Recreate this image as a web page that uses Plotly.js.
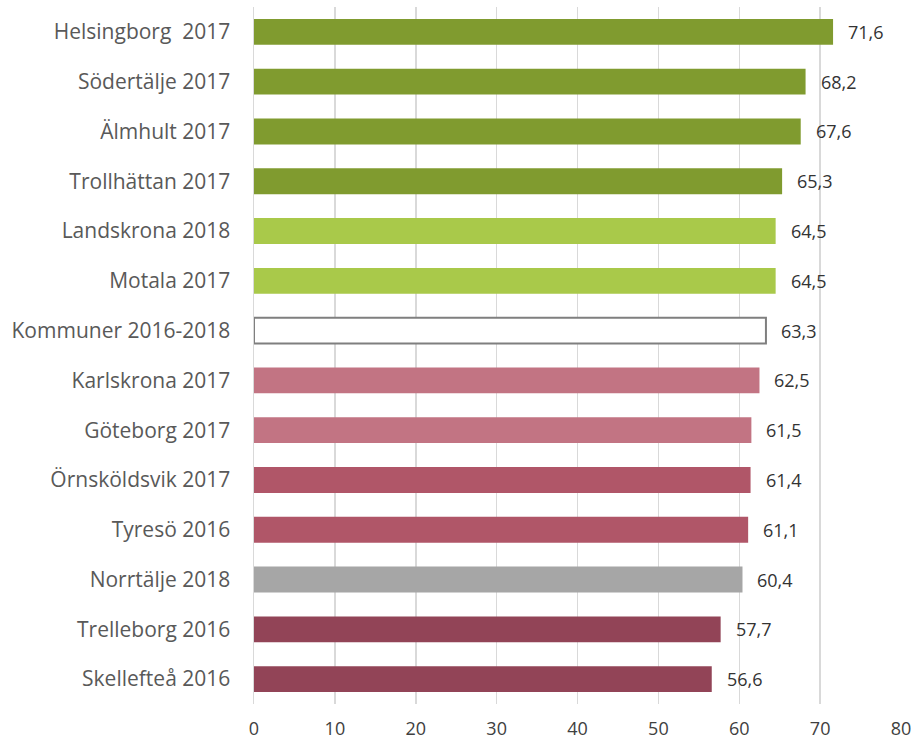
<!DOCTYPE html>
<html>
<head>
<meta charset="utf-8">
<script src="https://cdn.plot.ly/plotly-3.0.1.min.js"></script>
<style>html,body{margin:0;padding:0;background:#fff;}#chart{width:917px;height:741px;}</style>
</head>
<body>
<div id="chart"></div>
<script>
const categories = ["Helsingborg  2017","Södertälje 2017","Älmhult 2017","Trollhättan 2017","Landskrona 2018","Motala 2017","Kommuner 2016-2018","Karlskrona 2017","Göteborg 2017","Örnsköldsvik 2017","Tyresö 2016","Norrtälje 2018","Trelleborg 2016","Skellefteå 2016"];
const values = [71.6,68.2,67.6,65.3,64.5,64.5,63.3,62.5,61.5,61.4,61.1,60.4,57.7,56.6];
const colors = ["#809B2F","#809B2F","#809B2F","#809B2F","#A9C94A","#A9C94A","#FFFFFF","#C27483","#C27483","#B05668","#B05668","#A6A6A6","#924457","#924457"];
const lineColors = colors.map((c,i)=> categories[i]==="Kommuner 2016-2018" ? "#7F7F7F" : c);
const lineWidths = colors.map((c,i)=> categories[i]==="Kommuner 2016-2018" ? 2 : 0);
const tickVals = [0,10,20,30,40,50,60,70,80];

const fmt = v => v.toFixed(1).replace('.', ',');

const trace = {
  type: 'bar',
  orientation: 'h',
  y: categories,
  x: values,
  marker: {color: colors, line: {color: lineColors, width: lineWidths}},
  hoverinfo: 'none'
};

const annotations = values.map((v,i)=>({
  x: v, y: categories[i], xref:'x', yref:'y',
  text: fmt(v), showarrow:false, xanchor:'left', xshift: 13,
  font:{family:'Open Sans, sans-serif', size:18, color:'#333333'}
}));

const layout = {
  width: 917, height: 741,
  margin: {l:254, r:16, t:7, b:37},
  paper_bgcolor:'#fff', plot_bgcolor:'#fff',
  bargap: 0.48,
  showlegend:false,
  xaxis: {
    range:[0,80], tickvals: tickVals, ticktext: tickVals.map(String),
    showgrid:true, gridcolor:'#D9D9D9', gridwidth:1.5,
    zeroline:false, showline:false, ticks:'', ticklabelstandoff: 12,
    tickfont:{family:'Open Sans, sans-serif', size:18, color:'#404040'},
    fixedrange:true
  },
  yaxis: {
    autorange:'reversed', type:'category',
    showgrid:false, zeroline:false, showline:true, linecolor:'#D9D9D9', linewidth:1.5,
    ticks:'', ticklabelstandoff: 18,
    tickfont:{family:'Open Sans, sans-serif', size:21, color:'#595959'},
    fixedrange:true
  },
  annotations: annotations
};

Plotly.newPlot('chart', [trace], layout, {displayModeBar:false, staticPlot:true});
</script>
</body>
</html>
